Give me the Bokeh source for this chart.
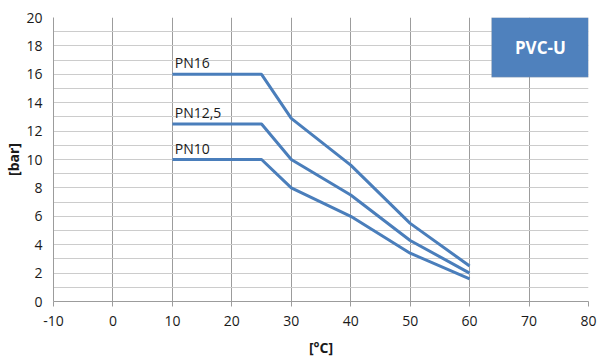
import math
from bokeh.plotting import figure
from bokeh.models import FixedTicker, Label, BoxAnnotation, ColumnDataSource, Range1d
from bokeh.embed import file_html
from bokeh.resources import INLINE

# ---- data ----
temps = [10, 25, 30, 40, 50, 60]
pn16 = [16, 16, 12.9, 9.6, 5.5, 2.5]
pn125 = [12.5, 12.5, 10, 7.5, 4.3, 2.0]
pn10 = [10, 10, 8, 6, 3.4, 1.6]
series_names = ["PN16", "PN12,5", "PN10"]
x_ticks = [-10, 0, 10, 20, 30, 40, 50, 60, 70, 80]
y_ticks = [0, 2, 4, 6, 8, 10, 12, 14, 16, 18, 20]
y_grid = list(range(0, 21))
badge_text = "PVC-U"
x_title = "[°C]"
y_title = "[bar]"

FONT = "Open Sans"
BLUE = "#4A7EBB"

p = figure(width=599, height=363, output_backend="svg", toolbar_location=None,
           x_range=Range1d(-10, 80), y_range=Range1d(0, 20),
           min_border_left=53, min_border_right=11, min_border_top=17, min_border_bottom=62)
p.outline_line_color = None

# grid
p.xgrid.ticker = FixedTicker(ticks=x_ticks)
p.xgrid.grid_line_color = "#9c9c9c"
p.xgrid.grid_line_width = 1
p.ygrid.ticker = FixedTicker(ticks=y_grid)
p.ygrid.grid_line_color = "#cccccc"
p.ygrid.grid_line_width = 1

# axes
p.xaxis.ticker = FixedTicker(ticks=x_ticks)
p.xaxis.major_label_overrides = {t: str(t) for t in x_ticks}
p.yaxis.ticker = FixedTicker(ticks=y_ticks)
for ax in (p.xaxis[0], p.yaxis[0]):
    ax.axis_line_color = "#9c9c9c"
    ax.major_label_text_font = FONT
    ax.major_label_text_font_size = "14px"
    ax.major_label_text_color = "#1a1a1a"
    ax.minor_tick_line_color = None
    ax.axis_label_text_font = FONT
    ax.axis_label_text_font_size = "14px"
    ax.axis_label_text_font_style = "bold"
    ax.axis_label_text_color = "#1a1a1a"
p.xaxis.major_tick_line_color = "#9c9c9c"
p.xaxis.major_tick_out = 5
p.xaxis.major_tick_in = 0
p.xaxis.major_label_standoff = 9
p.xaxis.axis_label = x_title
p.xaxis.axis_label_standoff = 9
p.yaxis.major_tick_line_color = None
p.yaxis.major_tick_out = 0
p.yaxis.major_tick_in = 0
p.yaxis.major_label_standoff = 11
p.yaxis.axis_label = y_title
p.yaxis.axis_label_standoff = 0

# lines
for name, vals in zip(series_names, [pn16, pn125, pn10]):
    src = ColumnDataSource(dict(x=temps, y=vals))
    p.line("x", "y", source=src, line_color=BLUE, line_width=3)
    p.add_layout(Label(x=temps[0] + 0.4, y=vals[0], text=name, text_font=FONT,
                       text_font_size="14px", text_color="#1a1a1a",
                       text_baseline="bottom", y_offset=2))

# badge
p.add_layout(BoxAnnotation(left=63.7, right=80, bottom=15.8, top=20,
                           fill_color="#4F81BD", fill_alpha=1.0,
                           line_color="#a6a6a6", line_width=1, level="overlay"))
p.add_layout(Label(x=71.9, y=17.9, text=badge_text, text_font=FONT,
                   text_font_size="17px", text_font_style="bold", text_color="white",
                   text_align="center", text_baseline="middle", level="overlay"))

open("out.html", "w").write(file_html(p, INLINE))
